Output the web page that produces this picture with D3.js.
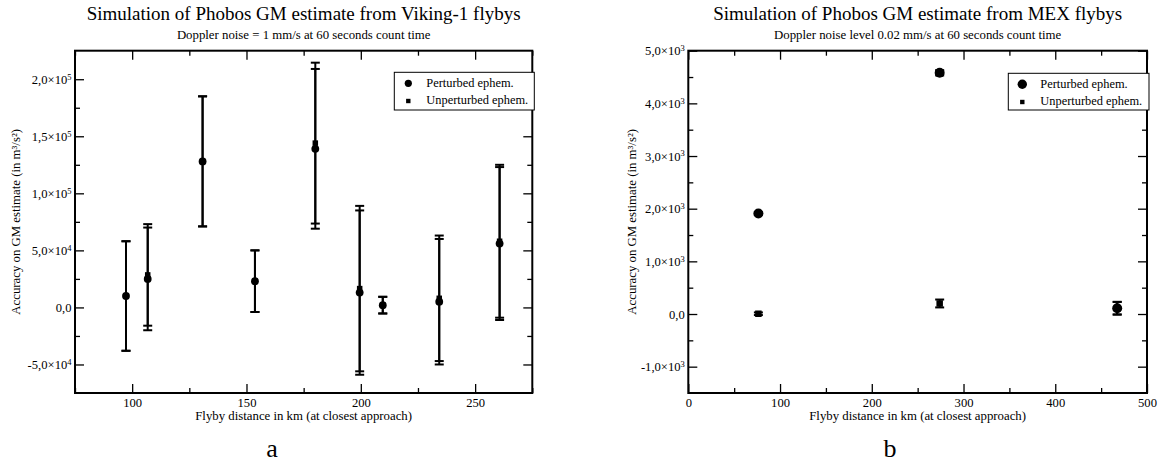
<!DOCTYPE html>
<html>
<head>
<meta charset="utf-8">
<script src="https://cdn.jsdelivr.net/npm/d3@7/dist/d3.min.js"></script>
<style>
    body { margin: 0; background: #fff; }
    text { font-family: "Liberation Serif", "Times New Roman", serif; fill: #000; }
</style>
</head>
<body>
<svg id="chart" width="1163" height="461"></svg>
<script>
// panel a: Viking-1 flybys
var vikingDistance = [97.3, 106.8, 130.8, 153.7, 180.1, 199.5, 209.6, 234.3, 260.7],
    vikingPerturbed = [10000, 25000, 128000, 23000, 139000, 13000, 2000, 5000, 56000],
    vikingPerturbedErr = [48000, 45000, 57000, 27000, 70000, 72000, 7300, 55000, 67000],
    vikingUnperturbed = [10000, 28500, 128000, 23000, 144000, 16500, 2000, 8000, 58000],
    vikingUnperturbedErr = [48000, 44500, 57000, 27000, 70500, 72500, 7300, 55000, 67000]

var vikingXTicks = [100, 150, 200, 250],
    vikingXMinor = [75, 125, 175, 225, 275],
    vikingXLabels = ["100", "150", "200", "250"],
    vikingYTicks = [-50000, 0, 50000, 100000, 150000, 200000],
    vikingYMinor = [-75000, -25000, 25000, 75000, 125000, 175000, 225000],
    vikingYLabels = ["-5,0×10^4", "0,0", "5,0×10^4", "1,0×10^5", "1,5×10^5", "2,0×10^5"]

// panel b: MEX flybys
var mexDistance = [76.4, 274, 467.5],
    mexPerturbed = [1910, 4580, 110],
    mexPerturbedErr = [20, 50, 120],
    mexUnperturbed = [5, 200, 110],
    mexUnperturbedErr = [25, 75, 120]

var mexXTicks = [0, 100, 200, 300, 400, 500],
    mexXMinor = [50, 150, 250, 350, 450],
    mexXLabels = ["0", "100", "200", "300", "400", "500"],
    mexYTicks = [-1000, 0, 1000, 2000, 3000, 4000, 5000],
    mexYMinor = [-1500, -500, 500, 1500, 2500, 3500, 4500],
    mexYLabels = ["-1,0×10^3", "0,0", "1,0×10^3", "2,0×10^3", "3,0×10^3", "4,0×10^3", "5,0×10^3"]

var legendNames = ["Perturbed ephem.", "Unperturbed ephem."],
    xTitle = "Flyby distance in km (at closest approach)",
    yTitle = "Accuracy on GM estimate (in m³/s²)"

var svg = d3.select("#chart")

drawPanel({
    left: 75, right: 532.3, top: 50.7, bottom: 393,
    xDomain: [75, 275], yDomain: [-75000, 225000],
    xTicks: vikingXTicks, xMinor: vikingXMinor, xLabels: vikingXLabels,
    yTicks: vikingYTicks, yMinor: vikingYMinor, yLabels: vikingYLabels,
    distance: vikingDistance,
    perturbed: vikingPerturbed, perturbedErr: vikingPerturbedErr,
    unperturbed: vikingUnperturbed, unperturbedErr: vikingUnperturbedErr,
    radius: 3.9, square: 5.5,
    title: "Simulation of Phobos GM estimate from Viking-1 flybys",
    subtitle: "Doppler noise = 1 mm/s at 60 seconds count time",
    legend: { x: 394.3, y: 72.3, width: 140, height: 37.7 },
    yTitleX: 19.5,
    letter: "a", letterX: 272
})

drawPanel({
    left: 688.3, right: 1147, top: 50.7, bottom: 393,
    xDomain: [0, 500], yDomain: [-1500, 5000],
    xTicks: mexXTicks, xMinor: mexXMinor, xLabels: mexXLabels,
    yTicks: mexYTicks, yMinor: mexYMinor, yLabels: mexYLabels,
    distance: mexDistance,
    perturbed: mexPerturbed, perturbedErr: mexPerturbedErr,
    unperturbed: mexUnperturbed, unperturbedErr: mexUnperturbedErr,
    radius: 5, square: 6.5,
    title: "Simulation of Phobos GM estimate from MEX flybys",
    subtitle: "Doppler noise level 0.02 mm/s at 60 seconds count time",
    legend: { x: 1008.3, y: 73.3, width: 140.7, height: 36.7 },
    yTitleX: 635.5,
    letter: "b", letterX: 890
})

function drawPanel(p) {
    var x = d3.scaleLinear().domain(p.xDomain).range([p.left, p.right]),
        y = d3.scaleLinear().domain(p.yDomain).range([p.bottom, p.top]),
        g = svg.append("g"),
        midX = (p.left + p.right) / 2,
        midY = (p.top + p.bottom) / 2,
        yMinor = p.yMinor.filter(v => v > p.yDomain[0] && v < p.yDomain[1])

    function labelOf(list, labels) {
        return function (d) { return labels[list.indexOf(d)] }
    }

    // inward ticks on all four sides, labels only bottom / left
    addAxis(d3.axisBottom(x).tickValues(p.xTicks).tickSize(-9).tickPadding(5.5).tickFormat(labelOf(p.xTicks, p.xLabels)), 0, p.bottom)
    addAxis(d3.axisBottom(x).tickValues(p.xMinor).tickSize(-5).tickFormat(""), 0, p.bottom)
    addAxis(d3.axisTop(x).tickValues(p.xTicks).tickSize(-9).tickFormat(""), 0, p.top)
    addAxis(d3.axisTop(x).tickValues(p.xMinor).tickSize(-5).tickFormat(""), 0, p.top)

    var yAxis = addAxis(d3.axisLeft(y).tickValues(p.yTicks).tickSize(-9).tickPadding(3.5).tickFormat(labelOf(p.yTicks, p.yLabels)), p.left, 0)
    addAxis(d3.axisLeft(y).tickValues(yMinor).tickSize(-5).tickFormat(""), p.left, 0)
    addAxis(d3.axisRight(y).tickValues(p.yTicks).tickSize(-9).tickFormat(""), p.right, 0)
    addAxis(d3.axisRight(y).tickValues(yMinor).tickSize(-5).tickFormat(""), p.right, 0)

    // "2,0×10^5" -> mantissa + superscript exponent
    yAxis.selectAll(".tick text").each(function () {
        var t = d3.select(this), parts = t.text().split("^")
        t.text(parts[0])
        if (parts[1])
            t.append("tspan").attr("dy", "-0.5em").attr("font-size", "8.5px").text(parts[1])
    })

    function addAxis(axis, tx, ty) {
        var a = g.append("g").attr("transform", "translate(" + tx + "," + ty + ")").call(axis)
        a.attr("font-family", null).attr("font-size", 12.6)
        a.select(".domain").remove()
        a.selectAll(".tick line").attr("stroke-width", 1.3)
        return a
    }

    g.append("rect")
        .attr("x", p.left).attr("y", p.top)
        .attr("width", p.right - p.left).attr("height", p.bottom - p.top)
        .attr("fill", "none").attr("stroke", "#000").attr("stroke-width", 2)

    // error bars
    var series = [
        { values: p.perturbed, err: p.perturbedErr },
        { values: p.unperturbed, err: p.unperturbedErr }
    ]
    series.forEach(function (s) {
        var bars = g.append("g").attr("stroke", "#000").attr("stroke-width", 2)
        p.distance.forEach(function (dist, i) {
            var cx = x(dist), lo = y(s.values[i] - s.err[i]), hi = y(s.values[i] + s.err[i])
            bars.append("line").attr("x1", cx).attr("x2", cx).attr("y1", lo).attr("y2", hi)
            bars.append("line").attr("x1", cx - 4.5).attr("x2", cx + 4.5).attr("y1", lo).attr("y2", lo)
            bars.append("line").attr("x1", cx - 4.5).attr("x2", cx + 4.5).attr("y1", hi).attr("y2", hi)
        })
    })

    g.append("g").selectAll("circle").data(p.distance).join("circle")
        .attr("cx", d => x(d))
        .attr("cy", (d, i) => y(p.perturbed[i]))
        .attr("r", p.radius)
        .attr("fill", "#000")

    g.append("g").selectAll("rect").data(p.distance).join("rect")
        .attr("x", d => x(d) - p.square / 2)
        .attr("y", (d, i) => y(p.unperturbed[i]) - p.square / 2)
        .attr("width", p.square).attr("height", p.square)
        .attr("fill", "#000")

    // legend
    var lg = g.append("g").attr("transform", "translate(" + p.legend.x + "," + p.legend.y + ")")
    lg.append("rect").attr("width", p.legend.width).attr("height", p.legend.height)
        .attr("fill", "#fff").attr("stroke", "#000").attr("stroke-width", 1)
    lg.append("circle").attr("cx", 14).attr("cy", 11).attr("r", p.radius - 0.3).attr("fill", "#000")
    lg.append("rect").attr("x", 11.8).attr("y", 26.5).attr("width", 4.4).attr("height", 4.4).attr("fill", "#000")
    lg.selectAll("text").data(legendNames).join("text")
        .attr("x", 32).attr("y", (d, i) => 15.2 + i * 16.5)
        .attr("font-size", 12.4)
        .text(d => d)

    // titles
    g.append("text").attr("x", midX).attr("y", 20).attr("text-anchor", "middle")
        .attr("font-size", 19).text(p.title)
    g.append("text").attr("x", midX).attr("y", 38.5).attr("text-anchor", "middle")
        .attr("font-size", 12.8).text(p.subtitle)
    g.append("text").attr("x", midX).attr("y", 420).attr("text-anchor", "middle")
        .attr("font-size", 12.8).text(xTitle)
    g.append("text").attr("transform", "translate(" + p.yTitleX + "," + midY + ") rotate(-90)")
        .attr("text-anchor", "middle").attr("font-size", 12.8).text(yTitle)
    g.append("text").attr("x", p.letterX).attr("y", 456.5).attr("text-anchor", "middle")
        .attr("font-size", 26).text(p.letter)
}
</script>
</body>
</html>
